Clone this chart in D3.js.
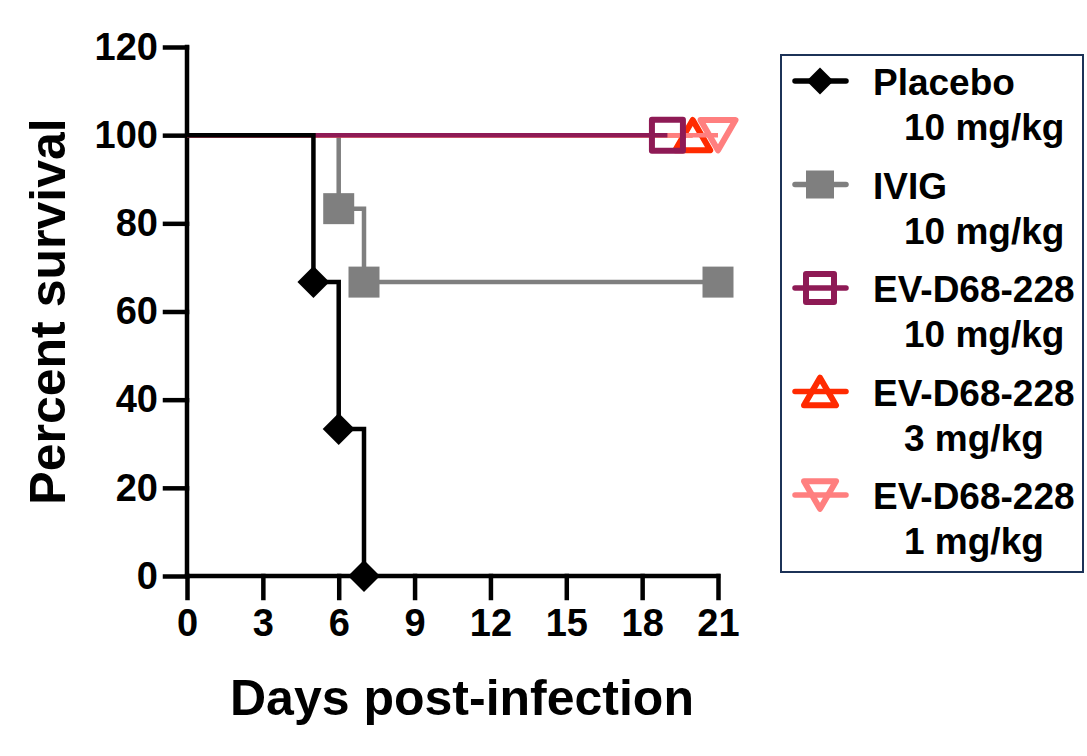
<!DOCTYPE html>
<html>
<head>
<meta charset="utf-8">
<script src="https://cdn.jsdelivr.net/npm/d3@7"></script>
<style>
  body { margin: 0; background: #fff; }
  text { font-family: "Liberation Sans", Arial, sans-serif; font-weight: bold; fill: #000; }
</style>
</head>
<body>
<svg id="chart" width="1087" height="756"></svg>
<script>
  // survival curves (days, percent)
  var placeboDays = [0, 5, 6, 7];
  var placeboSurv = [100, 66.67, 33.33, 0];
  var placeboMarks = [5, 6, 7];

  var ivigDays = [0, 6, 7, 21];
  var ivigSurv = [100, 83.33, 66.67, 66.67];
  var ivigMarks = [6, 7, 21];

  var ev10Days = [0, 19];
  var ev10Surv = [100, 100];
  var ev10Marks = [19];

  var ev3Days = [0, 20];
  var ev3Surv = [100, 100];
  var ev3Marks = [20];

  var ev1Days = [0, 21];
  var ev1Surv = [100, 100];
  var ev1Marks = [21];

  var xTicks = [0, 3, 6, 9, 12, 15, 18, 21];
  var yTicks = [0, 20, 40, 60, 80, 100, 120];

  var legendLabels = [
    ["Placebo", "10 mg/kg"],
    ["IVIG", "10 mg/kg"],
    ["EV-D68-228", "10 mg/kg"],
    ["EV-D68-228", "3 mg/kg"],
    ["EV-D68-228", "1 mg/kg"]
  ];

  var margin = {top: 47, left: 187};
  var plotW = 531, plotH = 529;

  var svg = d3.select("#chart");
  var g = svg.append("g")
    .attr("transform", "translate(" + margin.left + "," + margin.top + ")");

  var x = d3.scaleLinear().domain([0, 21]).range([0, plotW]);
  var y = d3.scaleLinear().domain([0, 120]).range([plotH, 0]);

  // marker shapes, centred on their bounding box like Prism does
  function markerPath(kind, s) {
    var h = s / 2;
    if (kind == "diamond") return "M0," + (-h) + "L" + h + ",0L0," + h + "L" + (-h) + ",0Z";
    if (kind == "square" || kind == "osquare") return "M" + (-h) + "," + (-h) + "H" + h + "V" + h + "H" + (-h) + "Z";
    var th = s * 0.866 / 2;
    if (kind == "tri") return "M0," + (-th) + "L" + h + "," + th + "L" + (-h) + "," + th + "Z";
    if (kind == "itri") return "M0," + th + "L" + h + "," + (-th) + "L" + (-h) + "," + (-th) + "Z";
  }

  var series = [
    {days: ivigDays, surv: ivigSurv, marks: ivigMarks, color: "#7f7f7f", kind: "square", size: 31},
    {days: ev3Days, surv: ev3Surv, marks: ev3Marks, color: "#ff2a00", kind: "tri", size: 35},
    {days: ev1Days, surv: ev1Surv, marks: ev1Marks, color: "#ff7f7f", kind: "itri", size: 35},
    {days: ev10Days, surv: ev10Surv, marks: ev10Marks, color: "#8e1a55", kind: "osquare", size: 31},
    {days: placeboDays, surv: placeboSurv, marks: placeboMarks, color: "#000000", kind: "diamond", size: 32}
  ];

  // axes first, series on top
  var yAxis = g.append("g")
    .call(d3.axisLeft(y).tickValues(yTicks).tickSize(22).tickSizeOuter(0).tickPadding(7));
  var xAxis = g.append("g")
    .attr("transform", "translate(0," + plotH + ")")
    .call(d3.axisBottom(x).tickValues(xTicks).tickSize(22).tickSizeOuter(0).tickPadding(11));

  [yAxis, xAxis].forEach(function(a) {
    a.selectAll("path, line").attr("stroke", "#000").attr("stroke-width", 4.5).attr("stroke-linecap", "square");
    a.selectAll("text").style("font-size", "38px")
      .style("font-family", "Liberation Sans, Arial, sans-serif").style("font-weight", "bold");
  });
  yAxis.select(".domain").attr("d", "M0," + y(120) + "V" + y(0));
  xAxis.select(".domain").attr("d", "M0,0H" + x(21));

  series.forEach(function(s) {
    var pts = s.days.map(function(d, i) { return [d, s.surv[i]]; });
    g.append("path")
      .datum(pts)
      .attr("fill", "none")
      .attr("stroke", s.color)
      .attr("stroke-width", 4.5)
      .attr("d", d3.line()
        .x(function(d) { return x(d[0]); })
        .y(function(d) { return y(d[1]); })
        .curve(d3.curveStepAfter));

    var open = s.kind == "osquare" || s.kind == "tri" || s.kind == "itri";
    s.marks.forEach(function(m) {
      var i = s.days.indexOf(m);
      g.append("path")
        .attr("transform", "translate(" + x(m) + "," + y(s.surv[i]) + ")")
        .attr("d", markerPath(s.kind, s.size))
        .attr("fill", open ? "none" : s.color)
        .attr("stroke", open ? s.color : "none")
        .attr("stroke-width", 6)
        .attr("stroke-linejoin", "round");
    });
  });

  // axis titles
  svg.append("text")
    .attr("transform", "translate(65," + (margin.top + plotH / 2) + ") rotate(-90)")
    .attr("text-anchor", "middle")
    .style("font-size", "50px")
    .text("Percent survival");

  svg.append("text")
    .attr("x", 462)
    .attr("y", 715)
    .attr("text-anchor", "middle")
    .style("font-size", "50px")
    .text("Days post-infection");

  // legend
  var leg = svg.append("g");
  leg.append("rect")
    .attr("x", 781).attr("y", 55)
    .attr("width", 302).attr("height", 517)
    .attr("fill", "none")
    .attr("stroke", "#1c3257")
    .attr("stroke-width", 2);

  var legOrder = [4, 0, 3, 1, 2];
  legOrder.forEach(function(si, row) {
    var s = series[si];
    var base = 95 + row * 103.5;
    var cy = base - 14;
    var open = s.kind == "osquare" || s.kind == "tri" || s.kind == "itri";
    leg.append("line")
      .attr("x1", 795).attr("x2", 846)
      .attr("y1", cy).attr("y2", cy)
      .attr("stroke", s.color)
      .attr("stroke-width", 5.5)
      .attr("stroke-linecap", "round");
    leg.append("path")
      .attr("transform", "translate(820," + cy + ")")
      .attr("d", markerPath(s.kind, s.kind == "diamond" ? 27 : s.size - 3))
      .attr("fill", open ? "none" : s.color)
      .attr("stroke", open ? s.color : "none")
      .attr("stroke-width", 6)
      .attr("stroke-linejoin", "round");
    leg.append("text")
      .attr("x", 873).attr("y", base)
      .style("font-size", "37px")
      .text(legendLabels[row][0]);
    leg.append("text")
      .attr("x", 904).attr("y", base + 45)
      .style("font-size", "37px")
      .text(legendLabels[row][1]);
  });
</script>
</body>
</html>
